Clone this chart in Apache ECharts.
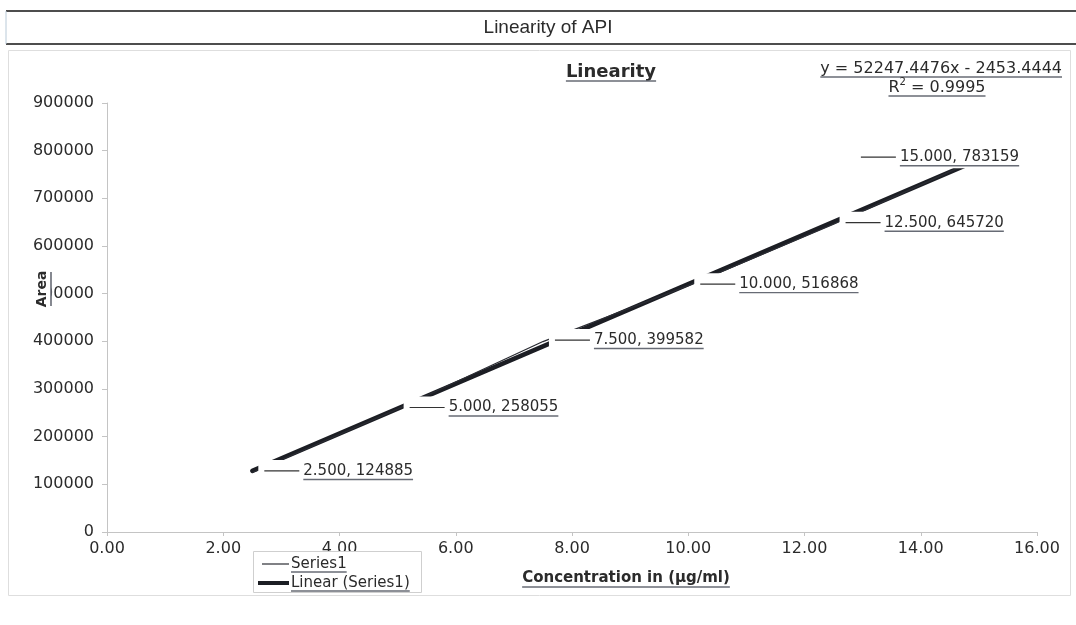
<!DOCTYPE html>
<html>
<head>
<meta charset="utf-8">
<script src="https://cdn.jsdelivr.net/npm/echarts/dist/echarts.min.js"></script>
<style>
html,body{margin:0;padding:0;background:#fff;}
#c{width:1076px;height:625px;}
</style>
</head>
<body>
<div id="c"></div>
<script>
// ---- data ----
const concentrations = [2.5, 5, 7.5, 10, 12.5, 15];
const areas = [124885, 258055, 399582, 516868, 645720, 783159];
const trendX = [2.5, 15];
const trendY = [128165, 781258];
const equationText = 'y = 52247.4476x - 2453.4444';
const r2Value = '0.9995';
const seriesNames = ['Series1', 'Linear (Series1)'];
const chartTitle = 'Linearity of API';
const plotTitle = 'Linearity';
const xAxisTitle = 'Concentration in (\u00b5g/ml)';
const yAxisTitle = 'Area';

// ---- styles ----
const FONT = "'DejaVu Sans', sans-serif";
const TXT = '#2b2b2b';
const UL = '#676b75';

const chart = echarts.init(document.getElementById('c'), null, {renderer: 'canvas'});

const option = {
  backgroundColor: '#fff',
  animation: false,
  grid: {left: 107, right: 39, top: 103, bottom: 93},
  xAxis: {
    type: 'value', min: 0, max: 16, interval: 2,
    axisLine: {show: true, lineStyle: {color: '#c4c4c4', width: 1}},
    axisTick: {show: true, length: 4, lineStyle: {color: '#c4c4c4'}},
    splitLine: {show: false},
    axisLabel: {formatter: v => v.toFixed(2), color: TXT, fontSize: 16, fontFamily: FONT, margin: 9}
  },
  yAxis: {
    type: 'value', min: 0, max: 900000, interval: 100000,
    axisLine: {show: true, lineStyle: {color: '#c4c4c4', width: 1}},
    axisTick: {show: true, length: 5, lineStyle: {color: '#c4c4c4'}},
    splitLine: {show: false},
    axisLabel: {formatter: v => String(v), color: TXT, fontSize: 16, fontFamily: FONT, margin: 13}
  },
  series: [
    {
      name: seriesNames[1], type: 'line', symbol: 'none', z: 2,
      data: trendX.map((x, i) => [x, trendY[i]]),
      lineStyle: {width: 4.5, color: '#1c1e24', cap: 'round'}
    },
    {
      name: seriesNames[0], type: 'line', symbol: 'none', z: 3,
      data: concentrations.map((x, i) => [x, areas[i]]),
      lineStyle: {width: 1.3, color: '#2a2c33'}
    }
  ]
};
chart.setOption(option);

// ---- text measuring ----
const mctx = document.createElement('canvas').getContext('2d');
function tw(text, font) { mctx.font = font; return mctx.measureText(text).width; }

const g = [];
function line(x1, y1, x2, y2, color, width, z) {
  g.push({type: 'line', z: z || 60, silent: true,
    shape: {x1, y1, x2, y2}, style: {stroke: color, lineWidth: width}});
}
function rect(x, y, w, h, fill, stroke, z) {
  g.push({type: 'rect', z: z || 50, silent: true,
    shape: {x, y, width: w, height: h},
    style: {fill: fill || 'none', stroke: stroke || 'none', lineWidth: 1}});
}
function text(x, y, str, size, weight, align, family, z) {
  g.push({type: 'text', z: z || 60, silent: true, x, y,
    style: {text: str, fill: TXT, fontSize: size, fontWeight: weight || 'normal',
      fontFamily: family || FONT, align: align || 'left', verticalAlign: 'middle'}});
}
function utext(x, y, str, size, weight, align, ulOff) {
  const w = tw(str, (weight === 'bold' ? 'bold ' : '') + size + 'px ' + FONT);
  text(x, y, str, size, weight, align);
  let x0 = x;
  if (align === 'center') x0 = x - w / 2;
  if (align === 'right') x0 = x - w;
  line(x0, y + (ulOff || size * 0.55), x0 + w, y + (ulOff || size * 0.55), UL, 1.4);
  return w;
}

// ---- page frame ----
line(6, 11, 1076, 11, '#4d4d4d', 2.2);
line(6, 44, 1076, 44, '#4d4d4d', 2.2);
line(6, 11, 6, 44, '#b9cad8', 1);
rect(8.5, 50.5, 1062, 545, 'none', '#dedede', 1);
text(548, 28, chartTitle, 19, 'normal', 'center', "'Liberation Sans', Arial, sans-serif");

// ---- plot title & equation ----
utext(611, 72, plotTitle, 18, 'bold', 'center', 9);
utext(1062, 69, equationText, 16, 'normal', 'right', 8);
// R^2 with superscript
(function () {
  const f = '16px ' + FONT;
  const a = 'R', b = ' = ' + r2Value;
  const wa = tw(a, f), wb = tw(b, f), ws = tw('2', '10px ' + FONT);
  const total = wa + ws + wb;
  const x0 = 937 - total / 2, y = 88;
  text(x0, y, a, 16);
  g.push({type: 'text', z: 60, silent: true, x: x0 + wa, y: y - 6,
    style: {text: '2', fill: TXT, fontSize: 10, fontFamily: FONT, align: 'left', verticalAlign: 'middle'}});
  text(x0 + wa + ws, y, b, 16);
  line(x0, y + 8, x0 + total, y + 8, UL, 1.4);
})();

// ---- axis titles ----
utext(626, 578, xAxisTitle, 15, 'bold', 'center', 9);
g.push({type: 'text', z: 70, silent: true, x: 42, y: 289, rotation: Math.PI / 2,
  style: {text: yAxisTitle, fill: TXT, fontSize: 14, fontWeight: 'bold', fontFamily: FONT,
    align: 'center', verticalAlign: 'middle', backgroundColor: '#fff', padding: [2, 3, 2, 3]}});
line(51, 272, 51, 306, UL, 1.6, 71);

// ---- data labels with legend key ----
concentrations.forEach((x, i) => {
  const p = chart.convertToPixel({xAxisIndex: 0, yAxisIndex: 0}, [x, areas[i]]);
  const last = i === concentrations.length - 1;
  const L = p[0] + (last ? -118 : 12);
  const ly = p[1] - 1.5;
  const str = x.toFixed(3) + ', ' + areas[i];
  const w = tw(str, '15px ' + FONT);
  rect(L - 6, ly - 11, 35 + 4 + w + 10, 22, '#fff', 'none', 50);
  line(L, ly, L + 35, ly, '#333', 1.2, 60);
  text(L + 39, ly, str, 15);
  line(L + 39, ly + 8.5, L + 39 + w, ly + 8.5, UL, 1.4);
});

// ---- legend ----
rect(253.5, 551.5, 168, 41, '#fff', '#cfcfcf', 55);
line(262, 564, 289, 564, '#2a2c33', 1.2);
utext(291, 564, seriesNames[0], 15, 'normal', 'left', 8);
line(258, 583, 289, 583, '#1c1e24', 4);
utext(291, 583, seriesNames[1], 15, 'normal', 'left', 8);

chart.setOption({graphic: g});
</script>
</body>
</html>
